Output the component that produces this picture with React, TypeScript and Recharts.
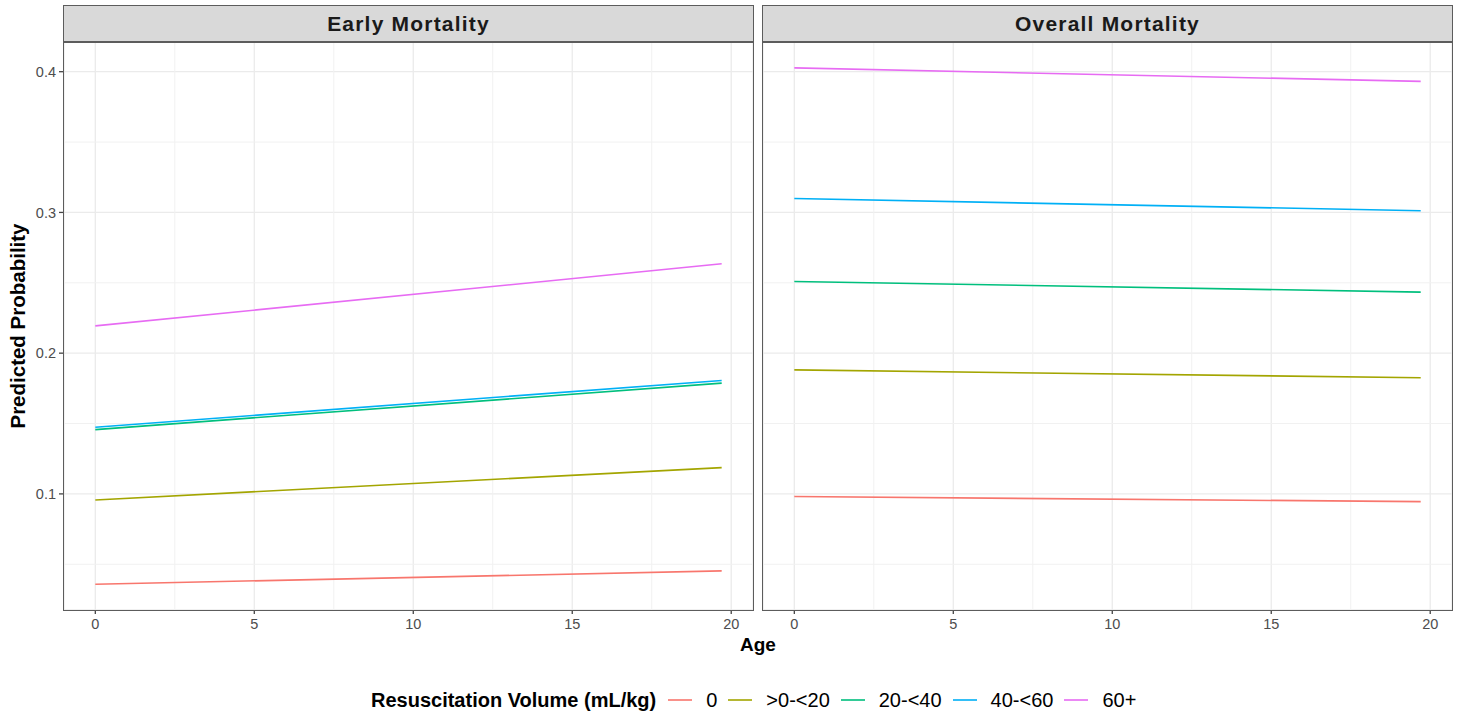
import React from "react";
import { LineChart, Line, XAxis, YAxis, CartesianGrid, ReferenceLine } from "recharts";

// ---- data ----
const ages = [0, 19.7];
const seriesNames = ["0", ">0-<20", "20-<40", "40-<60", "60+"];
const seriesColors = ["#F8766D", "#A3A500", "#00BF7D", "#00B0F6", "#E76BF3"];

// Early Mortality (value at age 0, value at age 19.7)
const early0 = [0.0358, 0.0453];
const early1 = [0.0957, 0.1187];
const early2 = [0.1457, 0.1787];
const early3 = [0.1474, 0.1806];
const early4 = [0.2194, 0.2635];

// Overall Mortality
const overall0 = [0.0981, 0.0945];
const overall1 = [0.1881, 0.1825];
const overall2 = [0.2509, 0.2434];
const overall3 = [0.3099, 0.3012];
const overall4 = [0.4027, 0.3931];

const xTicks = [0, 5, 10, 15, 20];
const xMinor = [2.5, 7.5, 12.5, 17.5];
const yTicks = [0.1, 0.2, 0.3, 0.4];
const yMinor = [0.05, 0.15, 0.25, 0.35];
const xDomain = [-0.985, 20.685];
const yDomain = [0.0175, 0.4211];

const panelTitles = ["Early Mortality", "Overall Mortality"];

function buildRows(series: number[][]) {
  return ages.map((a, i) => {
    const row: Record<string, number> = { age: a };
    series.forEach((s, k) => {
      row["s" + k] = s[i];
    });
    return row;
  });
}

const earlyRows = buildRows([early0, early1, early2, early3, early4]);
const overallRows = buildRows([overall0, overall1, overall2, overall3, overall4]);

const FONT = "'Liberation Sans', Arial, Helvetica, sans-serif";
const BORDER = "1.5px solid #5c5c5c";

function Panel({ rows, showY, width, margin }: { rows: any[]; showY: boolean; width: number; margin: any }) {
  return (
    <LineChart width={width} height={640} data={rows} margin={margin}>
      {xMinor.map((v) => (
        <ReferenceLine key={"xm" + v} x={v} stroke="#F1F1F1" strokeWidth={1} />
      ))}
      {yMinor.map((v) => (
        <ReferenceLine key={"ym" + v} y={v} stroke="#F1F1F1" strokeWidth={1} />
      ))}
      <CartesianGrid stroke="#EBEBEB" strokeWidth={1.3} />
      <XAxis
        dataKey="age"
        type="number"
        domain={xDomain}
        ticks={xTicks}
        allowDataOverflow
        axisLine={false}
        tickLine={{ stroke: "#444", strokeWidth: 1.3 }}
        tickSize={4}
        tickMargin={5}
        height={30}
        tick={{ fontSize: 14.5, fill: "#4D4D4D", fontFamily: FONT }}
      />
      <YAxis
        type="number"
        domain={yDomain}
        ticks={yTicks}
        allowDataOverflow
        hide={!showY}
        width={showY ? 64 : 0}
        axisLine={false}
        tickLine={{ stroke: "#444", strokeWidth: 1.3 }}
        tickSize={5}
        tickMargin={3}
        tick={{ fontSize: 14.5, fill: "#4D4D4D", fontFamily: FONT }}
      />
      {seriesNames.map((n, k) => (
        <Line
          key={n}
          type="linear"
          dataKey={"s" + k}
          name={n}
          stroke={seriesColors[k]}
          strokeWidth={1.6}
          dot={false}
          activeDot={false}
          isAnimationActive={false}
        />
      ))}
    </LineChart>
  );
}

export default function App() {
  const panels = [
    { left: 64, width: 689 },
    { left: 763, width: 689 },
  ];
  return (
    <div
      style={{
        position: "absolute",
        left: 0,
        top: 0,
        width: 1460,
        height: 719,
        background: "#fff",
        fontFamily: FONT,
        overflow: "hidden",
      }}
    >
      <div style={{ position: "absolute", left: 0, top: 0 }}>
        <Panel rows={earlyRows} showY={true} width={760} margin={{ top: 42, right: 7, bottom: 0, left: 0 }} />
      </div>
      <div style={{ position: "absolute", left: 760, top: 0 }}>
        <Panel rows={overallRows} showY={false} width={700} margin={{ top: 42, right: 8, bottom: 0, left: 3 }} />
      </div>

      {panels.map((p, i) => (
        <React.Fragment key={i}>
          <div
            style={{
              position: "absolute",
              left: p.left - 0.75,
              top: 4.5,
              width: p.width + 1.5,
              height: 38.25,
              boxSizing: "border-box",
              background: "#D9D9D9",
              border: BORDER,
              display: "flex",
              alignItems: "center",
              justifyContent: "center",
              fontSize: 21,
              fontWeight: "bold",
              color: "#1A1A1A",
              letterSpacing: 1.2,
            }}
          >
            {panelTitles[i]}
          </div>
          <div
            style={{
              position: "absolute",
              left: p.left - 0.75,
              top: 41.25,
              width: p.width + 1.5,
              height: 569.5,
              boxSizing: "border-box",
              border: BORDER,
              pointerEvents: "none",
            }}
          />
        </React.Fragment>
      ))}

      {/* axis titles */}
      <div
        style={{
          position: "absolute",
          left: 658,
          width: 200,
          top: 634,
          textAlign: "center",
          fontSize: 19,
          fontWeight: "bold",
          color: "#000",
          lineHeight: "22px",
        }}
      >
        Age
      </div>
      <div
        style={{
          position: "absolute",
          left: 18 - 150,
          top: 326 - 11,
          width: 300,
          height: 22,
          lineHeight: "22px",
          textAlign: "center",
          transform: "rotate(-90deg)",
          fontSize: 20.5,
          fontWeight: "bold",
          color: "#000",
        }}
      >
        Predicted Probability
      </div>

      {/* legend */}
      <div
        style={{
          position: "absolute",
          left: 371,
          top: 688,
          height: 24,
          display: "flex",
          alignItems: "center",
          fontSize: 20,
          color: "#000",
          whiteSpace: "nowrap",
        }}
      >
        <span style={{ fontWeight: "bold" }}>Resuscitation Volume (mL/kg)</span>
        {seriesNames.map((n, k) => (
          <span key={n} style={{ display: "flex", alignItems: "center", marginLeft: k === 0 ? 12 : 11 }}>
            <svg width={24} height={4}>
              <line x1={0} y1={2} x2={24} y2={2} stroke={seriesColors[k]} strokeWidth={1.6} />
            </svg>
            <span style={{ marginLeft: 14 }}>{n}</span>
          </span>
        ))}
      </div>
    </div>
  );
}
